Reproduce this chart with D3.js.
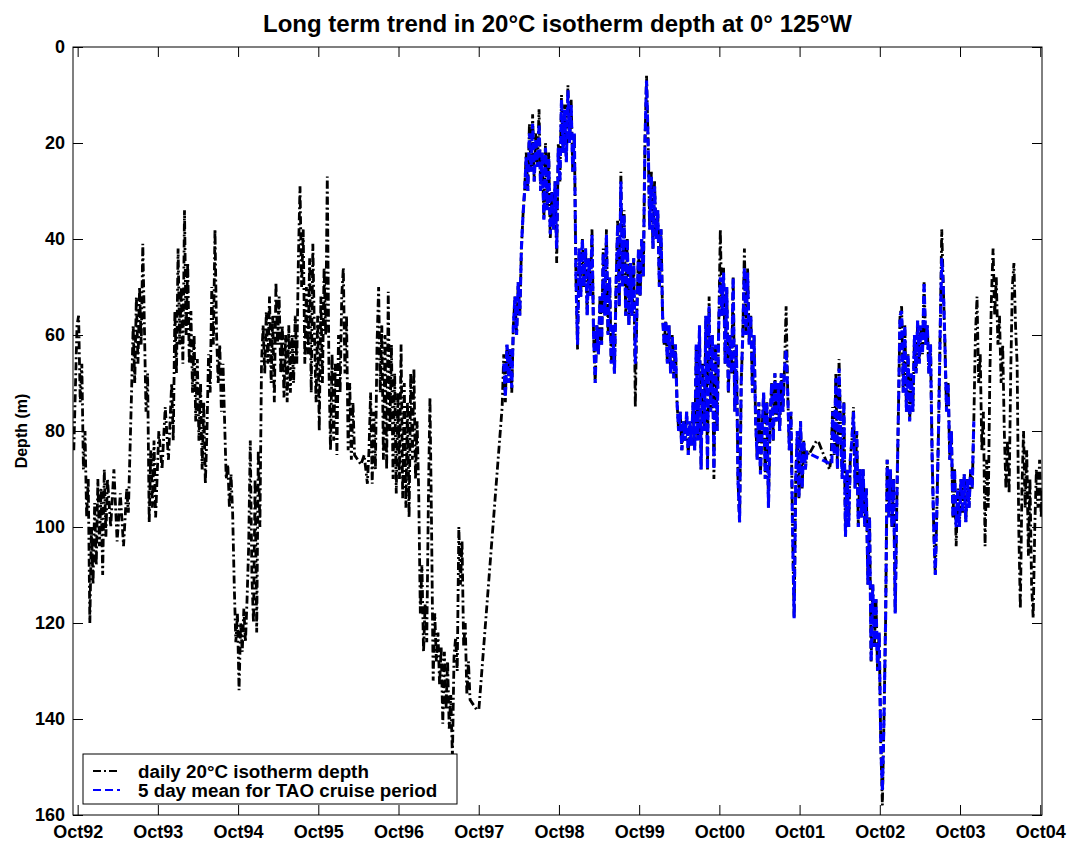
<!DOCTYPE html>
<html>
<head>
<meta charset="utf-8">
<script src="https://cdn.jsdelivr.net/npm/d3@7"></script>
<style>
  body { margin: 0; background: #fff; }
  svg { display: block; }
</style>
</head>
<body>
<svg id="chart" width="1071" height="842"></svg>
<script>
// ---- chart text ----
const titleText = "Long term trend in 20°C isotherm depth at 0° 125°W";
const yAxisLabel = "Depth (m)";
const legendLabels = ["daily 20°C isotherm depth", "5 day mean for TAO cruise period"];

// ---- axes: time in decimal years (1 Oct of each year), depth in metres ----
const timeDomain = [1992.69, 2004.77];
const octoberTicks = [1992.748, 1993.748, 1994.748, 1995.748, 1996.748, 1997.748,
                      1998.748, 1999.748, 2000.748, 2001.748, 2002.748, 2003.748, 2004.748];
const octoberLabels = ["Oct92", "Oct93", "Oct94", "Oct95", "Oct96", "Oct97",
                       "Oct98", "Oct99", "Oct00", "Oct01", "Oct02", "Oct03", "Oct04"];
const depthDomain = [0, 160];
const depthTicks = [0, 20, 40, 60, 80, 100, 120, 140, 160];

// ---- daily 20°C isotherm depth [decimal year, depth m] ----
const dailyDepth = [
  [1992.70,84],[1992.74,58],[1992.76,56],[1992.78,74],[1992.80,66],[1992.82,88],[1992.84,80],[1992.86,98],
  [1992.88,90],[1992.90,120],[1992.92,100],[1992.94,112],[1992.96,95],[1992.98,108],[1993.00,90],[1993.02,104],
  [1993.04,92],[1993.06,110],[1993.08,88],[1993.10,102],[1993.12,90],[1993.16,100],[1993.20,88],[1993.24,103],
  [1993.28,93],[1993.32,104],[1993.36,92],[1993.38,97],[1993.42,72],[1993.44,58],[1993.46,70],[1993.48,52],
  [1993.50,66],[1993.52,50],[1993.54,62],[1993.56,41],[1993.58,58],[1993.60,76],[1993.62,68],[1993.64,99],
  [1993.66,84],[1993.68,96],[1993.70,82],[1993.72,98],[1993.76,80],[1993.80,88],[1993.84,75],[1993.88,86],
  [1993.92,70],[1993.94,82],[1993.96,55],[1993.98,68],[1994.00,42],[1994.02,62],[1994.04,50],[1994.06,66],
  [1994.08,34],[1994.10,60],[1994.12,45],[1994.14,66],[1994.16,55],[1994.18,72],[1994.20,60],[1994.22,78],
  [1994.24,65],[1994.26,82],[1994.28,70],[1994.30,88],[1994.32,74],[1994.34,91],[1994.36,80],[1994.38,64],
  [1994.40,72],[1994.42,50],[1994.44,62],[1994.46,38],[1994.48,60],[1994.50,70],[1994.52,62],[1994.54,76],
  [1994.56,66],[1994.58,78],[1994.60,90],[1994.62,87],[1994.64,96],[1994.66,89],[1994.68,97],[1994.70,112],
  [1994.72,124],[1994.74,118],[1994.76,134],[1994.78,120],[1994.80,126],[1994.82,117],[1994.84,124],[1994.86,115],
  [1994.88,104],[1994.90,82],[1994.92,110],[1994.94,120],[1994.96,90],[1994.98,122],[1995.00,84],[1995.02,100],
  [1995.04,66],[1995.06,58],[1995.08,68],[1995.10,55],[1995.12,66],[1995.14,52],[1995.16,70],[1995.18,56],
  [1995.20,74],[1995.22,49],[1995.24,62],[1995.26,52],[1995.28,68],[1995.30,58],[1995.32,73],[1995.34,60],
  [1995.36,74],[1995.38,58],[1995.40,72],[1995.42,60],[1995.44,70],[1995.46,56],[1995.48,66],[1995.50,44],
  [1995.52,29],[1995.54,50],[1995.56,38],[1995.58,66],[1995.60,50],[1995.62,64],[1995.64,44],[1995.66,72],
  [1995.68,41],[1995.70,60],[1995.72,74],[1995.74,56],[1995.76,80],[1995.78,52],[1995.80,70],[1995.82,46],
  [1995.84,60],[1995.86,27],[1995.88,66],[1995.90,84],[1995.92,64],[1995.94,82],[1995.96,66],[1995.98,85],
  [1996.00,60],[1996.02,72],[1996.04,52],[1996.06,46],[1996.08,68],[1996.10,56],[1996.12,84],[1996.14,70],
  [1996.16,86],[1996.18,74],[1996.20,85],[1996.24,86],[1996.28,87],[1996.32,85],[1996.36,91],[1996.38,84],
  [1996.40,72],[1996.42,91],[1996.44,76],[1996.46,88],[1996.48,62],[1996.50,50],[1996.52,72],[1996.54,58],
  [1996.56,86],[1996.58,60],[1996.60,88],[1996.62,51],[1996.64,80],[1996.66,62],[1996.68,90],[1996.70,68],
  [1996.72,93],[1996.74,72],[1996.76,90],[1996.78,62],[1996.80,94],[1996.82,70],[1996.84,96],[1996.86,74],
  [1996.88,98],[1996.90,68],[1996.92,86],[1996.94,67],[1996.96,90],[1996.98,78],[1997.00,93],[1997.02,118],
  [1997.04,108],[1997.06,126],[1997.08,116],[1997.10,124],[1997.12,95],[1997.14,73],[1997.16,100],[1997.18,132],
  [1997.20,118],[1997.22,128],[1997.24,122],[1997.26,133],[1997.28,125],[1997.30,141],[1997.32,126],[1997.34,138],
  [1997.36,128],[1997.38,142],[1997.40,135],[1997.42,148],[1997.44,127],[1997.46,123],[1997.48,130],[1997.50,100],
  [1997.52,112],[1997.54,103],[1997.56,125],[1997.58,120],[1997.60,135],[1997.62,128],[1997.64,136],[1997.68,137],
  [1997.72,138],[1997.75,138],[1998.04,75],[1998.06,64],[1998.08,74],[1998.10,62],[1998.12,70],[1998.14,63],
  [1998.16,72],[1998.18,58],[1998.20,52],[1998.22,60],[1998.24,49],[1998.26,56],[1998.28,42],[1998.30,35],
  [1998.32,30],[1998.34,22],[1998.36,30],[1998.38,16],[1998.40,26],[1998.42,14],[1998.44,28],[1998.46,18],
  [1998.48,25],[1998.50,13],[1998.52,30],[1998.54,22],[1998.56,36],[1998.58,20],[1998.60,34],[1998.62,22],
  [1998.64,40],[1998.66,30],[1998.68,38],[1998.70,28],[1998.72,45],[1998.74,20],[1998.76,28],[1998.78,10],
  [1998.80,22],[1998.82,12],[1998.84,24],[1998.86,8],[1998.88,20],[1998.90,11],[1998.92,26],[1998.94,18],
  [1998.96,48],[1998.98,63],[1999.00,42],[1999.02,52],[1999.04,40],[1999.06,50],[1999.08,42],[1999.10,56],
  [1999.12,44],[1999.14,52],[1999.16,38],[1999.18,60],[1999.20,70],[1999.22,58],[1999.24,64],[1999.26,52],
  [1999.28,62],[1999.30,42],[1999.32,56],[1999.34,38],[1999.36,60],[1999.38,48],[1999.40,66],[1999.42,58],
  [1999.44,68],[1999.46,50],[1999.48,36],[1999.50,54],[1999.52,26],[1999.54,50],[1999.56,34],[1999.58,56],
  [1999.60,40],[1999.62,58],[1999.64,45],[1999.66,56],[1999.68,44],[1999.70,75],[1999.72,55],[1999.74,42],
  [1999.76,52],[1999.78,40],[1999.80,48],[1999.82,20],[1999.84,6],[1999.86,20],[1999.88,38],[1999.90,26],
  [1999.92,42],[1999.94,28],[1999.96,40],[1999.98,34],[2000.00,50],[2000.02,38],[2000.04,56],[2000.06,62],
  [2000.08,57],[2000.10,66],[2000.12,58],[2000.14,68],[2000.16,60],[2000.18,69],[2000.20,62],[2000.22,74],
  [2000.24,80],[2000.26,76],[2000.28,84],[2000.30,78],[2000.32,82],[2000.34,76],[2000.36,85],[2000.38,78],
  [2000.40,83],[2000.42,74],[2000.44,84],[2000.46,62],[2000.48,82],[2000.50,58],[2000.52,88],[2000.54,66],
  [2000.56,80],[2000.58,56],[2000.60,88],[2000.62,52],[2000.64,76],[2000.66,60],[2000.68,90],[2000.70,62],
  [2000.72,80],[2000.74,58],[2000.76,38],[2000.78,56],[2000.80,46],[2000.82,66],[2000.84,50],[2000.86,72],
  [2000.88,60],[2000.90,68],[2000.92,48],[2000.94,76],[2000.96,62],[2000.98,90],[2001.00,99],[2001.02,70],
  [2001.04,60],[2001.06,42],[2001.08,60],[2001.10,46],[2001.12,62],[2001.14,56],[2001.16,72],[2001.18,60],
  [2001.20,78],[2001.22,86],[2001.24,74],[2001.26,89],[2001.28,80],[2001.30,72],[2001.32,90],[2001.34,74],
  [2001.36,96],[2001.38,78],[2001.40,70],[2001.42,82],[2001.44,68],[2001.46,78],[2001.48,70],[2001.50,80],
  [2001.52,68],[2001.54,76],[2001.56,67],[2001.58,54],[2001.60,72],[2001.62,84],[2001.64,76],[2001.66,100],
  [2001.68,119],[2001.70,90],[2001.72,80],[2001.74,94],[2001.76,78],[2001.78,92],[2001.80,82],[2001.82,88],
  [2001.84,84],[2001.86,85],[2001.96,82],[2001.99,82.5],[2002.12,88],[2002.14,86],[2002.16,75],[2002.18,85],
  [2002.20,68],[2002.22,88],[2002.24,65],[2002.26,80],[2002.28,90],[2002.30,74],[2002.32,102],[2002.34,88],
  [2002.36,100],[2002.38,86],[2002.40,82],[2002.42,75],[2002.44,92],[2002.46,80],[2002.48,100],[2002.50,88],
  [2002.52,98],[2002.54,88],[2002.56,100],[2002.58,92],[2002.60,112],[2002.62,98],[2002.64,128],[2002.66,112],
  [2002.68,125],[2002.70,115],[2002.72,130],[2002.74,122],[2002.76,145],[2002.78,158],[2002.80,140],[2002.82,120],
  [2002.84,86],[2002.86,98],[2002.88,88],[2002.90,100],[2002.92,90],[2002.94,118],[2002.96,95],[2002.98,76],
  [2003.00,56],[2003.02,54],[2003.04,72],[2003.06,58],[2003.08,76],[2003.10,64],[2003.12,78],[2003.14,68],
  [2003.16,76],[2003.18,60],[2003.20,68],[2003.22,57],[2003.24,66],[2003.26,58],[2003.28,64],[2003.30,49],
  [2003.32,62],[2003.34,58],[2003.36,68],[2003.38,62],[2003.40,85],[2003.42,100],[2003.44,110],[2003.46,96],
  [2003.48,80],[2003.50,60],[2003.52,38],[2003.54,50],[2003.56,62],[2003.58,76],[2003.60,70],[2003.62,86],
  [2003.64,80],[2003.66,98],[2003.68,88],[2003.70,104],[2003.72,92],[2003.74,100],[2003.76,90],[2003.78,97],
  [2003.80,89],[2003.82,99],[2003.84,90],[2003.86,96],[2003.88,88],[2003.90,92],[2003.92,78],[2003.94,60],
  [2003.96,52],[2003.98,70],[2004.00,64],[2004.02,84],[2004.04,76],[2004.06,104],[2004.08,86],[2004.10,96],
  [2004.12,68],[2004.14,52],[2004.16,42],[2004.18,56],[2004.20,48],[2004.22,62],[2004.24,56],[2004.26,70],
  [2004.28,62],[2004.30,80],[2004.32,92],[2004.34,82],[2004.36,93],[2004.38,68],[2004.40,50],[2004.42,45],
  [2004.44,58],[2004.46,66],[2004.48,100],[2004.50,117],[2004.52,92],[2004.54,80],[2004.56,96],[2004.58,84],
  [2004.60,106],[2004.62,90],[2004.64,112],[2004.66,119],[2004.68,100],[2004.70,88],[2004.72,96],[2004.74,86],
  [2004.76,98],[2004.77,92]
];

// ---- 5 day mean during the TAO cruise period [decimal year, depth m] ----
const cruiseMean = [
  [1998.06,66],[1998.08,73],[1998.10,62],[1998.12,70],[1998.14,63],[1998.16,71],[1998.18,58],[1998.20,52],
  [1998.22,60],[1998.24,49],[1998.26,56],[1998.28,42],[1998.30,35],[1998.32,30],[1998.34,23],[1998.36,30],
  [1998.38,18],[1998.40,26],[1998.42,16],[1998.44,28],[1998.46,19],[1998.48,25],[1998.50,16],[1998.52,30],
  [1998.54,22],[1998.56,36],[1998.58,21],[1998.60,34],[1998.62,23],[1998.64,39],[1998.66,30],[1998.68,38],
  [1998.70,28],[1998.72,42],[1998.74,21],[1998.76,28],[1998.78,11],[1998.80,22],[1998.82,13],[1998.84,24],
  [1998.86,9],[1998.88,20],[1998.90,12],[1998.92,26],[1998.94,18],[1998.96,48],[1998.98,62],[1999.00,42],
  [1999.02,52],[1999.04,40],[1999.06,50],[1999.08,42],[1999.10,56],[1999.12,44],[1999.14,52],[1999.16,39],
  [1999.18,60],[1999.20,70],[1999.22,58],[1999.24,64],[1999.26,52],[1999.28,62],[1999.30,43],[1999.32,56],
  [1999.34,39],[1999.36,60],[1999.38,48],[1999.40,66],[1999.42,58],[1999.44,68],[1999.46,50],[1999.48,37],
  [1999.50,54],[1999.52,28],[1999.54,50],[1999.56,35],[1999.58,56],[1999.60,40],[1999.62,58],[1999.64,45],
  [1999.66,56],[1999.68,44],[1999.70,66],[1999.72,55],[1999.74,42],[1999.76,52],[1999.78,40],[1999.80,48],
  [1999.82,20],[1999.84,7],[1999.86,20],[1999.88,38],[1999.90,27],[1999.92,42],[1999.94,29],[1999.96,40],
  [1999.98,34],[2000.00,50],[2000.02,38],[2000.04,56],[2000.06,62],[2000.08,57],[2000.10,66],[2000.12,58],
  [2000.14,68],[2000.16,60],[2000.18,69],[2000.20,62],[2000.22,74],[2000.24,80],[2000.26,76],[2000.28,84],
  [2000.30,78],[2000.32,82],[2000.34,76],[2000.36,85],[2000.38,78],[2000.40,83],[2000.42,74],[2000.44,84],
  [2000.46,62],[2000.48,82],[2000.50,58],[2000.52,88],[2000.54,66],[2000.56,80],[2000.58,56],[2000.60,88],
  [2000.62,54],[2000.64,76],[2000.66,60],[2000.68,88],[2000.70,62],[2000.72,80],[2000.74,58],[2000.76,48],
  [2000.78,56],[2000.80,47],[2000.82,66],[2000.84,50],[2000.86,72],[2000.88,60],[2000.90,68],[2000.92,48],
  [2000.94,76],[2000.96,62],[2000.98,90],[2001.00,99],[2001.02,70],[2001.04,60],[2001.06,46],[2001.08,60],
  [2001.10,47],[2001.12,62],[2001.14,56],[2001.16,72],[2001.18,60],[2001.20,78],[2001.22,86],[2001.24,74],
  [2001.26,89],[2001.28,80],[2001.30,72],[2001.32,90],[2001.34,74],[2001.36,96],[2001.38,78],[2001.40,70],
  [2001.42,82],[2001.44,68],[2001.46,78],[2001.48,70],[2001.50,80],[2001.52,68],[2001.54,76],[2001.56,67],
  [2001.58,63],[2001.60,72],[2001.62,84],[2001.64,76],[2001.66,100],[2001.68,119],[2001.70,90],[2001.72,80],
  [2001.74,94],[2001.76,78],[2001.78,92],[2001.80,82],[2001.82,88],[2001.84,84.5],[2002.15,87],[2002.16,76],
  [2002.18,85],[2002.20,69],[2002.22,88],[2002.24,67],[2002.26,80],[2002.28,90],[2002.30,74],[2002.32,102],
  [2002.34,88],[2002.36,100],[2002.38,86],[2002.40,82],[2002.42,76],[2002.44,92],[2002.46,80],[2002.48,100],
  [2002.50,88],[2002.52,98],[2002.54,88],[2002.56,100],[2002.58,92],[2002.60,112],[2002.62,98],[2002.64,128],
  [2002.66,112],[2002.68,125],[2002.70,115],[2002.72,130],[2002.74,122],[2002.76,145],[2002.78,155],[2002.80,140],
  [2002.82,120],[2002.84,86],[2002.86,98],[2002.88,88],[2002.90,100],[2002.92,90],[2002.94,118],[2002.96,95],
  [2002.98,76],[2003.00,56],[2003.02,55],[2003.04,72],[2003.06,58],[2003.08,76],[2003.10,64],[2003.12,78],
  [2003.14,68],[2003.16,76],[2003.18,60],[2003.20,68],[2003.22,57],[2003.24,66],[2003.26,58],[2003.28,64],
  [2003.30,49],[2003.32,62],[2003.34,58],[2003.36,68],[2003.38,62],[2003.40,85],[2003.42,100],[2003.44,110],
  [2003.46,96],[2003.48,80],[2003.50,60],[2003.52,44],[2003.54,50],[2003.56,62],[2003.58,76],[2003.60,70],
  [2003.62,86],[2003.64,80],[2003.66,98],[2003.68,88],[2003.70,100],[2003.72,92],[2003.74,100],[2003.76,90],
  [2003.78,97],[2003.80,89],[2003.82,99],[2003.84,90],[2003.86,96],[2003.88,88],[2003.90,92],[2003.92,78]
];

// ---- layout ----
const W = 1071, H = 842;
const plot = { left: 73, right: 1042, top: 47, bottom: 815 };
const FONT = "'Liberation Sans', Arial, Helvetica, sans-serif";
const dailyStyle = { color: "#000000", width: 2.8, dash: "8,3,2,3" };
const meanStyle = { color: "#0000ff", width: 3.1, dash: "8,4" };

const svg = d3.select("#chart");
svg.append("rect").attr("width", W).attr("height", H).attr("fill", "#fff");

const x = d3.scaleLinear().domain(timeDomain).range([plot.left, plot.right]);
const y = d3.scaleLinear().domain(depthDomain).range([plot.top, plot.bottom]);

svg.append("defs").append("clipPath").attr("id", "plotClip")
  .append("rect")
  .attr("x", plot.left).attr("y", plot.top)
  .attr("width", plot.right - plot.left).attr("height", plot.bottom - plot.top);

// series
const line = d3.line().x(d => x(d[0])).y(d => y(d[1]));
const series = svg.append("g").attr("clip-path", "url(#plotClip)");
series.append("path").datum(dailyDepth)
  .attr("d", line).attr("fill", "none")
  .attr("stroke", dailyStyle.color).attr("stroke-width", dailyStyle.width)
  .attr("stroke-dasharray", dailyStyle.dash).attr("stroke-linejoin", "miter");
series.append("path").datum(cruiseMean)
  .attr("d", line).attr("fill", "none")
  .attr("stroke", meanStyle.color).attr("stroke-width", meanStyle.width)
  .attr("stroke-dasharray", meanStyle.dash).attr("stroke-linejoin", "miter");

// axes with inward ticks on all four sides
const TICK = 10;
function styleAxis(g) {
  g.select(".domain").remove();
  g.selectAll(".tick line").attr("stroke", "#000").attr("stroke-width", 1);
  g.selectAll(".tick text")
    .attr("fill", "#000").attr("font-family", FONT)
    .attr("font-size", 18).attr("font-weight", "bold");
}
const octLabel = d => octoberLabels[octoberTicks.indexOf(d)];

svg.append("g").attr("transform", `translate(0,${plot.bottom})`)
  .call(d3.axisBottom(x).tickValues(octoberTicks).tickFormat(octLabel)
        .tickSizeInner(-TICK).tickSizeOuter(0).tickPadding(10))
  .call(styleAxis);
svg.append("g").attr("transform", `translate(0,${plot.top})`)
  .call(d3.axisTop(x).tickValues(octoberTicks).tickFormat("")
        .tickSizeInner(-TICK).tickSizeOuter(0))
  .call(styleAxis);
svg.append("g").attr("transform", `translate(${plot.left},0)`)
  .call(d3.axisLeft(y).tickValues(depthTicks).tickFormat(d3.format("d"))
        .tickSizeInner(-TICK).tickSizeOuter(0).tickPadding(8))
  .call(styleAxis);
svg.append("g").attr("transform", `translate(${plot.right},0)`)
  .call(d3.axisRight(y).tickValues(depthTicks).tickFormat("")
        .tickSizeInner(-TICK).tickSizeOuter(0))
  .call(styleAxis);

// plot frame
svg.append("rect")
  .attr("x", plot.left).attr("y", plot.top)
  .attr("width", plot.right - plot.left).attr("height", plot.bottom - plot.top)
  .attr("fill", "none").attr("stroke", "#000").attr("stroke-width", 1);

// title and axis label
svg.append("text")
  .attr("x", (plot.left + plot.right) / 2).attr("y", 32)
  .attr("text-anchor", "middle")
  .attr("font-family", FONT).attr("font-size", 24).attr("font-weight", "bold")
  .text(titleText);
svg.append("text")
  .attr("transform", `translate(27,${(plot.top + plot.bottom) / 2}) rotate(-90)`)
  .attr("text-anchor", "middle")
  .attr("font-family", FONT).attr("font-size", 16).attr("font-weight", "bold")
  .text(yAxisLabel);

// legend
const legend = svg.append("g").attr("transform", "translate(83,754)");
legend.append("rect").attr("width", 374).attr("height", 50)
  .attr("fill", "#fff").attr("stroke", "#000").attr("stroke-width", 1);
const legendStyles = [dailyStyle, meanStyle];
legendLabels.forEach((label, i) => {
  const cy = 17 + i * 19;
  const s = legendStyles[i];
  legend.append("line")
    .attr("x1", 10).attr("x2", 37).attr("y1", cy).attr("y2", cy)
    .attr("stroke", s.color).attr("stroke-width", 2.2)
    .attr("stroke-dasharray", s.dash);
  legend.append("text")
    .attr("x", 55).attr("y", cy).attr("dy", "0.36em")
    .attr("font-family", FONT).attr("font-size", 18.8).attr("font-weight", "bold")
    .text(label);
});
</script>
</body>
</html>
